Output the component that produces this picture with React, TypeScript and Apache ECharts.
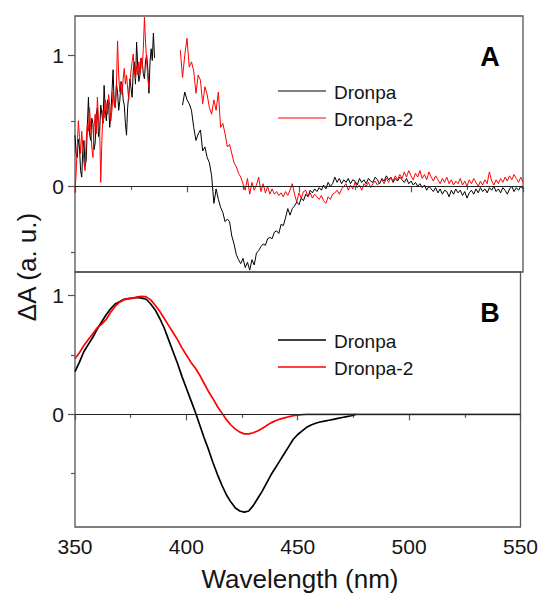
import React, { useEffect, useRef } from "react";
import * as echarts from "echarts";

const FONT = '"Liberation Sans", Arial, Helvetica, sans-serif';

// ---------- Panel A : noisy transient difference spectra ----------
const aSeg1Step = 0.5; // nm
const aSeg2Step = 1; // nm

const aDronpaSeg1Start = 350;
const aDronpaSeg1 = [
  0.39, 0.25, 0.22, 0.36, 0.3, 0.12, 0.07, 0.28, 0.35, 0.15, 0.2, 0.45, 0.68, 0.4, 0.35, 0.52,
  0.48, 0.28, 0.33, 0.55, 0.6, 0.38, 0.42, 0.62, 0.55, 0.48, 0.77, 0.58, 0.5, 0.66, 0.62, 0.45,
  0.55, 0.72, 0.89, 0.62, 0.6, 0.78, 0.72, 0.58, 0.65, 0.8, 0.78, 0.66, 0.62, 0.48, 0.39, 0.6,
  0.7, 0.82, 0.75, 0.68, 0.88, 0.95, 0.78, 1.1, 0.92, 0.8, 0.85, 0.98, 0.95, 0.86, 0.82, 0.96,
  1.0, 0.9, 0.71, 0.95, 1.05, 0.96, 1.17, 0.98,
];

const aDronpa2Seg1Start = 350;
const aDronpa2Seg1 = [
  -0.05, 0.1, 0.3, 0.5, 0.38, 0.25, 0.42, 0.3, 0.18, 0.12, 0.35, 0.48, 0.42, 0.6, 0.45, 0.3,
  0.22, 0.45, 0.55, 0.4, 0.68, 0.5, 0.45, 0.03, 0.35, 0.58, 0.52, 0.66, 0.62, 0.55, 0.7, 0.62,
  0.5, 0.58, 0.72, 0.65, 0.6, 0.78, 1.11, 0.85, 0.72, 0.79, 0.7, 0.82, 0.9, 0.78, 0.85, 0.75,
  0.66, 0.8, 0.88, 0.95, 1.01, 0.88, 0.82, 0.92, 0.85, 0.95, 0.86, 0.98, 0.9, 1.05, 1.29, 1.1,
  0.95, 0.83, 0.75,
];

const aDronpaSeg2Start = 398;
const aDronpaSeg2 = [
  0.62, 0.72, 0.66, 0.63, 0.58, 0.45, 0.35, 0.4, 0.43, 0.27, 0.3, 0.22, 0.18, 0.08, -0.13, -0.02,
  -0.1, -0.16, -0.2, -0.27, -0.25, -0.27, -0.38, -0.44, -0.52, -0.56, -0.59, -0.55, -0.62, -0.58,
  -0.64, -0.56, -0.6, -0.51, -0.49, -0.46, -0.44, -0.45, -0.4, -0.39, -0.4, -0.35, -0.34, -0.36,
  -0.29, -0.3, -0.24, -0.17, -0.22, -0.17, -0.15, -0.12, -0.14, -0.09, -0.11, -0.06, -0.08, -0.03,
  -0.05, -0.02, -0.04, -0.01, -0.03, 0.01, -0.02, 0.03, 0.0, 0.02, 0.07, 0.03, 0.06, 0.02, 0.05,
  0.03, 0.06, 0.02, 0.05, 0.04, 0.01, 0.06, 0.03, 0.05, 0.02, 0.06, 0.04, 0.03, 0.07, 0.05, 0.02,
  0.06, 0.04, 0.08, 0.05, 0.07, 0.03, 0.06, 0.04, 0.07, 0.05, 0.03, 0.06, 0.02, 0.04, 0.01, 0.03,
  0.0, 0.02, -0.01, 0.01, -0.03, 0.0, -0.02, -0.04, -0.01, -0.05, -0.02, -0.06, -0.03, -0.04,
  -0.08, -0.03, -0.06, -0.02, -0.05, -0.03, -0.07, -0.04, -0.09, -0.05, -0.03, -0.06, -0.02, -0.05,
  -0.01, -0.04, -0.02, -0.05, -0.01, -0.03, 0.0, -0.04, -0.02, -0.05, -0.01, -0.03, -0.06, -0.02,
  0.0, -0.04, -0.01, -0.03, 0.0, -0.02,
];

const aDronpa2Seg2Start = 397;
const aDronpa2Seg2 = [
  1.04, 0.83, 1.0, 1.13, 0.91, 0.95, 0.88, 0.71, 0.85, 0.81, 0.63, 0.76, 0.7, 0.6, 0.55, 0.66,
  0.58, 0.72, 0.45, 0.48, 0.4, 0.3, 0.32, 0.25, 0.18, 0.15, 0.1, 0.07, 0.02, -0.03, 0.06, -0.06,
  0.03, -0.03, 0.01, 0.07, -0.04, 0.02, -0.05, 0.0, -0.06, -0.02, -0.06, -0.04, -0.07, -0.05,
  -0.08, -0.04, -0.07, -0.03, 0.02, -0.06, -0.12, -0.05, -0.09, -0.04, -0.03, -0.08, -0.05, -0.09,
  -0.06, -0.08, -0.1, -0.07, -0.11, -0.13, -0.08, -0.1, -0.06, -0.05, -0.03, -0.06, -0.02, 0.0,
  0.02, -0.03, 0.01, -0.02, 0.03, -0.01, 0.01, -0.03, 0.02, 0.0, 0.03, -0.01, 0.02, 0.04, 0.01,
  0.03, 0.05, 0.02, 0.06, 0.03, 0.07, 0.04, 0.08, 0.05, 0.09, 0.06, 0.11, 0.07, 0.12, 0.08, 0.05,
  0.1, 0.07, 0.12, 0.06, 0.09, 0.05, 0.11, 0.07, 0.04, 0.08, 0.05, 0.02, 0.06, 0.03, 0.07, 0.02,
  0.05, 0.01, 0.04, 0.02, 0.06, 0.01, 0.04, 0.0, 0.05, 0.02, 0.06, 0.03, 0.0, 0.04, 0.01, 0.05,
  0.02, 0.11, 0.04, 0.01, 0.05, 0.02, 0.06, 0.03, 0.07, 0.04, 0.08, 0.05, 0.09, 0.06, 0.03, 0.07,
  0.03,
];

// ---------- Panel B : smooth difference spectra ----------
const bStep = 2; // nm
const bDronpaStart = 350;
const bDronpa = [
  0.36, 0.44, 0.53, 0.59, 0.65, 0.72, 0.78, 0.84, 0.89, 0.93, 0.95, 0.97, 0.975, 0.98, 0.985,
  0.98, 0.97, 0.93, 0.88, 0.81, 0.73, 0.63, 0.53, 0.43, 0.32, 0.22, 0.12, 0.02, -0.09, -0.2,
  -0.3, -0.41, -0.51, -0.6, -0.68, -0.74, -0.79, -0.815, -0.825, -0.815, -0.77, -0.71, -0.65,
  -0.58, -0.51, -0.45, -0.39, -0.33, -0.27, -0.21, -0.17, -0.14, -0.11, -0.09, -0.075, -0.065,
  -0.058, -0.05, -0.042, -0.034, -0.027, -0.02, -0.012, 0.0,
];

const bDronpa2Start = 350;
const bDronpa2 = [
  0.47, 0.52, 0.58, 0.63, 0.68, 0.73, 0.76, 0.8, 0.86, 0.91, 0.945, 0.965, 0.975, 0.98, 0.99,
  0.995, 0.99, 0.965, 0.92, 0.87, 0.81, 0.75, 0.69, 0.63, 0.56, 0.5, 0.44, 0.39, 0.33, 0.26,
  0.19, 0.13, 0.064, 0.01, -0.045, -0.09, -0.125, -0.15, -0.165, -0.165, -0.155, -0.14, -0.12,
  -0.095, -0.072, -0.054, -0.04, -0.03, -0.02, -0.012, -0.006, -0.003, 0, 0, 0, 0, 0, 0, 0, 0,
  0, 0, 0, 0, 0, 0, 0, 0, 0, 0, 0, 0, 0, 0, 0, 0, 0, 0, 0, 0, 0, 0, 0, 0, 0, 0, 0, 0, 0, 0, 0,
  0, 0, 0, 0, 0, 0, 0, 0, 0, 0,
];

// ---------- Axis / legend text ----------
const xMin = 350;
const xMax = 550;
const xInterval = 50;
const yMajorTicks = [0, 1];
const yMinorTicks = [-0.5, 0.5];
const aYRange = [-0.654, 1.3];
const bYRange = [-0.95, 1.2];
const seriesNames = ["Dronpa", "Dronpa-2"];
const panelLabels = ["A", "B"];
const xTitle = "Wavelength (nm)";
const yTitle = "ΔA (a. u.)";

const BLACK = "#000000";
const RED = "#ff0000";
const FRAME = "#555555";
const TEXT = "#151515";

function pairs(start: number, step: number, vals: number[]) {
  return vals.map((v, i) => [Number((start + i * step).toFixed(2)), v]);
}

export default function App() {
  const ref = useRef<HTMLDivElement>(null);

  useEffect(() => {
    if (!ref.current) return;
    const chart = echarts.init(ref.current, undefined, { renderer: "svg" });

    const grids = [
      { left: 75, top: 16, width: 448, height: 256 },
      { left: 75, top: 272, width: 448, height: 255 },
    ].map((g) => ({
      ...g,
      show: true,
      borderColor: FRAME,
      borderWidth: 1.3,
      backgroundColor: "transparent",
    }));

    const xAxisBase = (gridIndex: number, showLabels: boolean) => ({
      type: "value",
      gridIndex,
      min: xMin,
      max: xMax,
      interval: xInterval,
      axisLine: { show: false },
      axisTick: { show: true, inside: false, length: 6, lineStyle: { color: FRAME, width: 1.2 } },
      minorTick: { show: true, splitNumber: 2, length: 3.5, lineStyle: { color: FRAME, width: 1.2 } },
      splitLine: { show: false },
      minorSplitLine: { show: false },
      axisLabel: {
        show: showLabels,
        fontSize: 21,
        fontFamily: FONT,
        color: TEXT,
        margin: 9,
      },
    });

    const yAxisMain = (gridIndex: number, range: number[]) => ({
      type: "value",
      gridIndex,
      min: range[0],
      max: range[1],
      axisLine: { show: false },
      splitLine: { show: false },
      axisTick: {
        show: true,
        inside: false,
        length: 7,
        customValues: yMajorTicks,
        lineStyle: { color: FRAME, width: 1.2 },
      },
      axisLabel: {
        show: true,
        customValues: yMajorTicks,
        fontSize: 21,
        fontFamily: FONT,
        color: TEXT,
        margin: 11,
      },
    });

    const yAxisMinor = (gridIndex: number, range: number[]) => ({
      type: "value",
      gridIndex,
      min: range[0],
      max: range[1],
      position: "left",
      axisLine: { show: false },
      splitLine: { show: false },
      axisTick: {
        show: true,
        inside: false,
        length: 4,
        customValues: yMinorTicks,
        lineStyle: { color: FRAME, width: 1.2 },
      },
      axisLabel: { show: false },
    });

    const zeroLine = {
      silent: true,
      symbol: ["none", "none"],
      label: { show: false },
      lineStyle: { color: "#222", width: 1, type: "solid" },
      data: [{ yAxis: 0 }],
    };

    const line = (
      name: string,
      data: number[][],
      color: string,
      width: number,
      xAxisIndex: number,
      yAxisIndex: number,
      withZero = false
    ) => ({
      type: "line",
      name,
      data,
      xAxisIndex,
      yAxisIndex,
      showSymbol: false,
      symbol: "none",
      lineStyle: { color, width },
      itemStyle: { color },
      silent: true,
      ...(withZero ? { markLine: zeroLine } : {}),
    });

    const legendBlock = (top: number, width: number) => [
      {
        type: "line",
        shape: { x1: 278, y1: top, x2: 326, y2: top },
        style: { stroke: BLACK, lineWidth: width },
      },
      {
        type: "text",
        x: 334,
        y: top + 1,
        style: {
          text: seriesNames[0],
          fill: TEXT,
          fontSize: 19,
          fontFamily: FONT,
          textAlign: "left",
          textVerticalAlign: "middle",
        },
      },
      {
        type: "line",
        shape: { x1: 278, y1: top + 27, x2: 326, y2: top + 27 },
        style: { stroke: RED, lineWidth: width },
      },
      {
        type: "text",
        x: 334,
        y: top + 28,
        style: {
          text: seriesNames[1],
          fill: TEXT,
          fontSize: 19,
          fontFamily: FONT,
          textAlign: "left",
          textVerticalAlign: "middle",
        },
      },
    ];

    const option = {
      animation: false,
      backgroundColor: "#ffffff",
      grid: grids,
      xAxis: [xAxisBase(0, false), xAxisBase(1, true)],
      yAxis: [
        yAxisMain(0, aYRange),
        yAxisMinor(0, aYRange),
        yAxisMain(1, bYRange),
        yAxisMinor(1, bYRange),
      ],
      series: [
        line(seriesNames[0], pairs(aDronpaSeg1Start, aSeg1Step, aDronpaSeg1), BLACK, 1, 0, 0, true),
        line(seriesNames[0], pairs(aDronpaSeg2Start, aSeg2Step, aDronpaSeg2), BLACK, 1, 0, 0),
        line(seriesNames[1], pairs(aDronpa2Seg1Start, aSeg1Step, aDronpa2Seg1), RED, 1, 0, 0),
        line(seriesNames[1], pairs(aDronpa2Seg2Start, aSeg2Step, aDronpa2Seg2), RED, 1, 0, 0),
        line(seriesNames[0], pairs(bDronpaStart, bStep, bDronpa), BLACK, 1.7, 1, 2, true),
        line(seriesNames[1], pairs(bDronpa2Start, bStep, bDronpa2), RED, 1.7, 1, 2),
      ],
      graphic: [
        ...legendBlock(91, 1),
        ...legendBlock(340, 1.7),
        {
          type: "text",
          x: 490,
          y: 57,
          style: {
            text: panelLabels[0],
            fill: "#000",
            fontSize: 27,
            fontWeight: "bold",
            fontFamily: FONT,
            textAlign: "center",
            textVerticalAlign: "middle",
          },
        },
        {
          type: "text",
          x: 490,
          y: 313,
          style: {
            text: panelLabels[1],
            fill: "#000",
            fontSize: 27,
            fontWeight: "bold",
            fontFamily: FONT,
            textAlign: "center",
            textVerticalAlign: "middle",
          },
        },
        {
          type: "text",
          x: 27,
          y: 267,
          rotation: Math.PI / 2,
          style: {
            text: yTitle,
            fill: TEXT,
            fontSize: 26,
            fontFamily: FONT,
            textAlign: "center",
            textVerticalAlign: "middle",
          },
        },
        {
          type: "text",
          x: 300,
          y: 579,
          style: {
            text: xTitle,
            fill: TEXT,
            fontSize: 26,
            fontFamily: FONT,
            textAlign: "center",
            textVerticalAlign: "middle",
          },
        },
      ],
    };

    chart.setOption(option as any);
    return () => chart.dispose();
  }, []);

  return (
    <div
      ref={ref}
      style={{ position: "fixed", left: 0, top: 0, width: 541, height: 593, background: "#fff" }}
    />
  );
}
